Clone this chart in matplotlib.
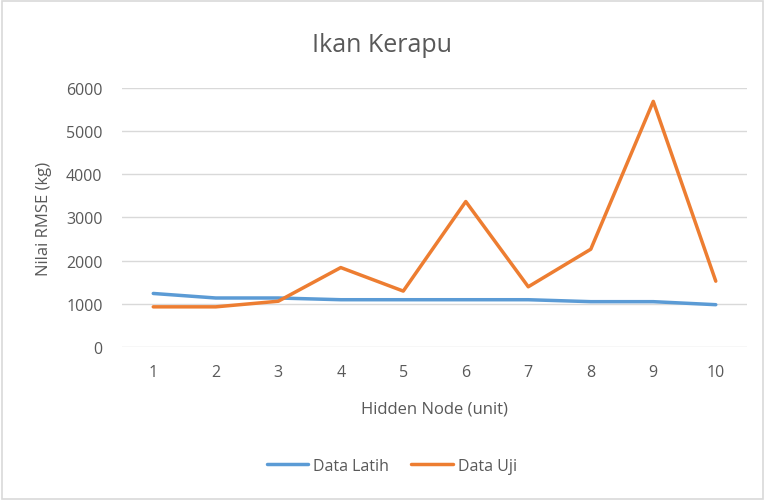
import numpy as np
import matplotlib
matplotlib.use('Agg')
import matplotlib.pyplot as plt
from matplotlib.patches import Rectangle

plt.rcParams['font.family'] = ['Open Sans', 'DejaVu Sans']

hidden_node = [1, 2, 3, 4, 5, 6, 7, 8, 9, 10]
data_latih = [1240, 1135, 1135, 1095, 1095, 1095, 1095, 1050, 1050, 980]
data_uji = [930, 930, 1060, 1840, 1295, 3370, 1395, 2265, 5690, 1525]

TXT = '#595959'

fig = plt.figure(figsize=(7.65, 5.02), dpi=100)
ax = fig.add_axes([0.1595, 0.3068, 0.8170, 0.5159])

x = np.arange(len(hidden_node))
ax.plot(x, data_latih, color='#5B9BD5', lw=2.5, label='Data Latih', solid_capstyle='round')
ax.plot(x, data_uji, color='#ED7D31', lw=2.5, label='Data Uji', solid_capstyle='round')

ax.set_xlim(-0.5, len(hidden_node) - 0.5)
ax.set_ylim(0, 6000)
ax.set_yticks(np.arange(0, 6001, 1000))
ax.set_xticks(x)
ax.set_xticklabels([str(h) for h in hidden_node])
ax.grid(axis='y', color='#d9d9d9', lw=1)
ax.set_axisbelow(True)
for s in ax.spines.values():
    s.set_visible(False)
ax.tick_params(length=0, colors=TXT, labelsize=11.5)
ax.tick_params(axis='y', pad=14)
ax.tick_params(axis='x', pad=12)

ax.set_ylabel('Nilai RMSE (kg)', color=TXT, fontsize=12, labelpad=10)
ax.set_xlabel('Hidden Node (unit)', color=TXT, fontsize=12, labelpad=15)
fig.text(0.5, 1 - 45 / 502, 'Ikan Kerapu', ha='center', va='center',
         color=TXT, fontsize=18)

fig.legend(loc='center', bbox_to_anchor=(0.512, 1 - 467 / 502), ncol=2, frameon=False,
           fontsize=11.5, labelcolor=TXT, handlelength=2.6, columnspacing=1.4,
           handletextpad=0.3)

fig.patches.append(Rectangle((0.003, 0.003), 0.994, 0.994, transform=fig.transFigure,
                             fill=False, edgecolor='#d9d9d9', lw=1.2))

fig.savefig('out.png', dpi=100)
